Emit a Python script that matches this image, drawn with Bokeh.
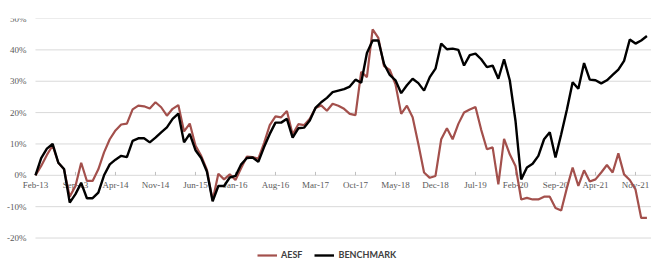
from bokeh.plotting import figure
from bokeh.models import Range1d, Legend, LegendItem, LabelSet, ColumnDataSource
from bokeh.embed import file_html
from bokeh.resources import INLINE

# --- data (cumulative return, %) monthly Feb-13 .. Jan-22 ---
aesf = [0, 3, 6.5, 9.5, 4, 1.9, -6.8, -3.4, 4, -1.8, -1.8, 1.9, 7.3, 11.5, 14.3, 16.2,
        16.5, 21, 22.2, 22, 21.3, 23.3, 21.7, 19, 21.2, 22.4, 14, 16.5, 9.5, 6.2, 1.8, -8,
        0.5, -1.3, 0.3, -1.5, 2.3, 6, 5.8, 5.3, 10.3, 16, 18.8, 18.5, 20.5, 13, 16.3, 16,
        18, 21.5, 22.3, 20.6, 22.8, 22.2, 21.2, 19.6, 19.2, 33, 31.3, 46.5, 43.8, 34.8,
        33.6, 29, 19.6, 22.2, 18.5, 10, 0.9, -0.8, -0.2, 11.5, 15, 11.5, 16.4, 20, 21, 21.8,
        14.5, 8.3, 8.9, -2.9, 11.6, 6.7, 3, -7.7, -7.2, -7.7, -7.7, -6.8, -6.8, -10.4,
        -11.2, -4, 2.5, -3.4, 1.6, -2, -1.3, 0.9, 3.3, 0.9, 7, 0.3, -1.5, -4.5, -13.6, -13.6]
benchmark = [0, 5.5, 8.5, 10, 4, 2, -8.7, -6, -2.4, -7.3, -7.3, -5.5, 0, 3.5, 5, 6.2,
             5.8, 11, 11.8, 11.8, 10.5, 12, 13.7, 15.3, 18, 19.7, 10.5, 13.2, 8, 5.5, 1.2, -8.3,
             -3.4, -3.4, -0.7, -0.2, 3.5, 5.5, 5.7, 4.3, 9, 13.2, 16.8, 16.8, 18, 12, 15, 15.2,
             17.5, 21.5, 23.3, 24.7, 26.5, 27, 27.5, 28.3, 30.5, 29.5, 39, 43, 43, 35.5,
             32, 30.3, 26.2, 28.7, 30.8, 29.4, 27, 31.3, 34, 42, 40.2, 40.4, 40, 35, 38.3, 38.8,
             37, 34.5, 35, 30.8, 37, 30.3, 17.4, -1.3, 2.5, 3.7, 6.2, 11.5, 13.7, 5.7,
             13.1, 21, 29.7, 27.6, 35.8, 30.5, 30.3, 29.3, 30.3, 32, 33.7, 36.5, 43.3, 42, 43, 44.4]
tick_labels = ["Feb-13", "Sep-13", "Apr-14", "Nov-14", "Jun-15", "Jan-16", "Aug-16", "Mar-17",
               "Oct-17", "May-18", "Dec-18", "Jul-19", "Feb-20", "Sep-20", "Apr-21", "Nov-21"]
y_ticks = [-20, -10, 0, 10, 20, 30, 40, 50]
y_tick_labels = ["-20%", "-10%", "0%", "10%", "20%", "30%", "40%", "50%"]

months = list(range(len(aesf)))
tick_pos = [7 * k for k in range(len(tick_labels))]

FONT = "Lato"
GRID = "#d9d9d9"
X0, X1 = -6.12, 107.8

p = figure(width=651, height=262, output_backend="svg", toolbar_location=None,
           x_range=Range1d(X0, X1), y_range=Range1d(-27.8, 50),
           min_border_left=0, min_border_right=0, min_border_top=18, min_border_bottom=0)
p.outline_line_color = None
p.background_fill_color = "white"
p.xaxis.visible = False
p.yaxis.visible = False
p.xgrid.grid_line_color = None
p.ygrid.grid_line_color = None

# horizontal gridlines across the plot area (starting at the first category)
n_y = len(y_ticks)
p.segment(x0=[0] * n_y, y0=y_ticks, x1=[X1] * n_y, y1=y_ticks,
          line_color=GRID, line_width=1)

# value-axis labels
ylab = LabelSet(source=ColumnDataSource(dict(x=[0] * n_y, y=y_ticks, text=y_tick_labels)),
                x="x", y="y", text="text", text_align="right", text_baseline="middle",
                x_offset=-9, text_font=FONT, text_font_size="9px", text_color="#595959",
                level="underlay")
p.add_layout(ylab)

# category axis crossing at 0%: tick marks and labels at y = 0
n_x = len(tick_pos)
p.segment(x0=tick_pos, y0=[0] * n_x, x1=tick_pos, y1=[1.1] * n_x,
          line_color="#bfbfbf", line_width=1)
xlab = LabelSet(source=ColumnDataSource(dict(x=tick_pos, y=[0] * n_x, text=tick_labels)),
                x="x", y="y", text="text", text_align="center", text_baseline="top",
                y_offset=-5, text_font=FONT, text_font_size="9px", text_color="#595959",
                level="underlay")
p.add_layout(xlab)

r1 = p.line(months, aesf, line_color="#a3504c", line_width=2.2)
r2 = p.line(months, benchmark, line_color="#000000", line_width=2.4)

legend = Legend(items=[LegendItem(label="AESF", renderers=[r1]),
                       LegendItem(label="BENCHMARK", renderers=[r2])],
                orientation="horizontal", location=(257, 2),
                label_text_font=FONT, label_text_font_size="9px",
                label_text_font_style="bold", label_text_color="#404040",
                glyph_width=20, glyph_height=10, label_height=10,
                padding=2, margin=0, spacing=12, label_standoff=4,
                border_line_color=None, background_fill_alpha=0)
p.add_layout(legend)

open("out.html", "w").write(file_html(p, INLINE))
